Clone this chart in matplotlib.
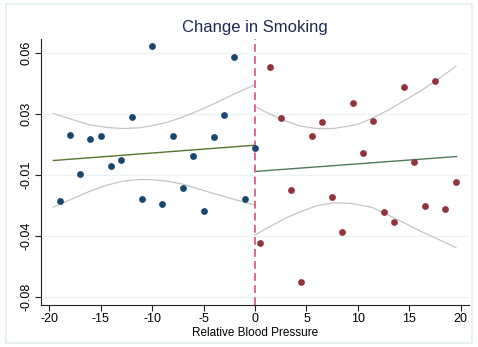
import numpy as np
import matplotlib
matplotlib.use("Agg")
import matplotlib.pyplot as plt
from matplotlib.patches import Rectangle

plt.rcParams['font.family'] = ['Liberation Sans', 'DejaVu Sans']

# datos
x_izq = [-19, -18, -17, -16, -15, -14, -13, -12, -11, -10,
         -9, -8, -7, -6, -5, -4, -3, -2, -1, 0]
y_izq = [-0.0249, 0.0130, -0.0094, 0.0107, 0.0124, -0.0048, -0.0014, 0.0233, -0.0238, 0.0640,
         -0.0266, 0.0124, -0.0175, 0.0009, -0.0306, 0.0118, 0.0244, 0.0577, -0.0240, 0.0055]

x_der = [0.5, 1.5, 2.5, 3.5, 4.5, 5.5, 6.5, 7.5, 8.5, 9.5,
         10.5, 11.5, 12.5, 13.5, 14.5, 15.5, 16.5, 17.5, 18.5, 19.5]
y_der = [-0.0490, 0.0520, 0.0227, -0.0186, -0.0714, 0.0124, 0.0204, -0.0226, -0.0427, 0.0313,
         0.0026, 0.0210, -0.0312, -0.0370, 0.0405, -0.0025, -0.0278, 0.0440, -0.0295, -0.0140]

# rectas ajustadas
ajuste_izq_x = [-19.6, 0]
ajuste_izq_y = [-0.0017, 0.0071]
ajuste_der_x = [0, 19.6]
ajuste_der_y = [-0.0080, 0.0006]

# bandas de confianza
banda_izq_x = [-19.6, -17.66, -16.03, -14.41, -12.8, -11.18, -10.2, -8.58, -6.97, -5.35, -3.72, -2.11, -0.49, 0]
banda_izq_sup = [0.0253, 0.0217, 0.0188, 0.0173, 0.0167, 0.0171, 0.0181, 0.0202, 0.0234, 0.0273, 0.0317, 0.0363, 0.0406, 0.0420]
banda_izq_inf = [-0.0285, -0.0235, -0.0193, -0.0159, -0.0135, -0.0126, -0.0127, -0.0135, -0.0154, -0.0183, -0.0212, -0.0239, -0.0266, -0.0273]

banda_der_x = [0, 1.14, 2.75, 4.37, 6.0, 7.61, 9.23, 10.2, 11.34, 12.95, 14.58, 16.2, 17.81, 19.53]
banda_der_sup = [0.0293, 0.0259, 0.0215, 0.0182, 0.0167, 0.0167, 0.0182, 0.0196, 0.0225, 0.0273, 0.0330, 0.0387, 0.0451, 0.0525]
banda_der_inf = [-0.0446, -0.0407, -0.0355, -0.0312, -0.0277, -0.0260, -0.0263, -0.0273, -0.0286, -0.0331, -0.0378, -0.0427, -0.0470, -0.0518]

yticks = [0.06, 0.025, -0.01, -0.045, -0.08]
ytick_labels = ['0.06', '0.03', '-0.01', '-0.04', '-0.08']
xticks = [-20, -15, -10, -5, 0, 5, 10, 15, 20]
xtick_labels = ['-20', '-15', '-10', '-5', '0', '5', '10', '15', '20']

fig = plt.figure(figsize=(4.78, 3.47), dpi=100)
fig.patches.append(Rectangle((0.012, 0.012), 0.976, 0.976, transform=fig.transFigure,
                             fill=False, edgecolor='#e3eef0', linewidth=1.2))
ax = fig.add_axes([0.0858, 0.121, 0.8954, 0.7657])

for y in yticks:
    ax.axhline(y, color='#eaf2f3', linewidth=0.9, zorder=0)

ax.plot(banda_izq_x, banda_izq_sup, color='#c4c4c4', linewidth=0.9, zorder=1)
ax.plot(banda_izq_x, banda_izq_inf, color='#c4c4c4', linewidth=0.9, zorder=1)
ax.plot(banda_der_x, banda_der_sup, color='#c4c4c4', linewidth=0.9, zorder=1)
ax.plot(banda_der_x, banda_der_inf, color='#c4c4c4', linewidth=0.9, zorder=1)

ax.plot(ajuste_izq_x, ajuste_izq_y, color='#55752f', linewidth=1.0, zorder=2)
ax.plot(ajuste_der_x, ajuste_der_y, color='#4d7a5c', linewidth=1.0, zorder=2)

ax.axvline(0, color='#dc6a8c', linewidth=1.4, linestyle=(0, (4, 2.2)), zorder=3)

ax.scatter(x_izq, y_izq, s=24, color='#1a476f', zorder=4, linewidths=0)
ax.scatter(x_der, y_der, s=24, color='#90353b', zorder=4, linewidths=0)

ax.set_xlim(-20.8, 20.8)
ax.set_ylim(-0.0848, 0.068)
ax.set_xticks(xticks)
ax.set_xticklabels(xtick_labels, fontsize=9)
ax.set_yticks(yticks)
ax.set_yticklabels(ytick_labels, fontsize=9, rotation=90, va='center')
ax.tick_params(length=4, width=0.8, color='#222222', pad=2)
ax.spines['top'].set_visible(False)
ax.spines['right'].set_visible(False)
ax.spines['left'].set_color('#222222')
ax.spines['bottom'].set_color('#222222')
ax.set_xlabel('Relative Blood Pressure', fontsize=8.5, labelpad=1)
fig.text(0.534, 0.899, 'Change in Smoking', ha='center', va='bottom', fontsize=12, color='#1c2b55')

fig.savefig('out.png', dpi=100)
